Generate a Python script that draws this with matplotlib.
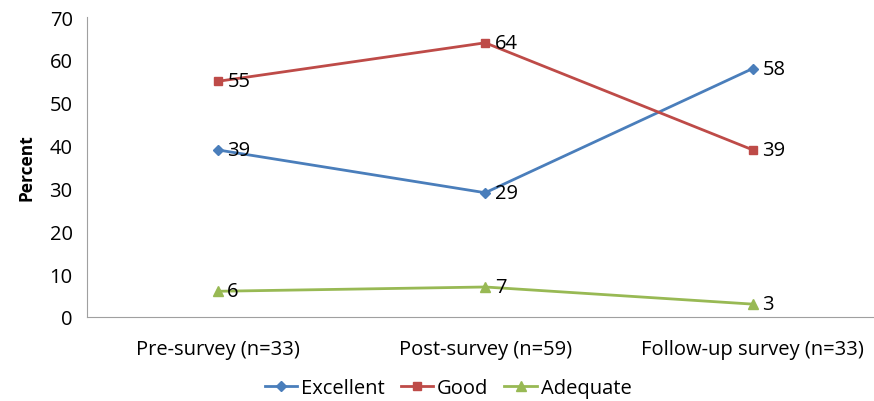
import matplotlib.pyplot as plt

# data
categories = ["Pre-survey (n=33)", "Post-survey (n=59)", "Follow-up survey (n=33)"]
excellent = [39, 29, 58]
good = [55, 64, 39]
adequate = [6, 7, 3]

plt.rcParams['font.family'] = ['Open Sans', 'DejaVu Sans']

fig = plt.figure(figsize=(8.74, 4.02), dpi=100)
ax = fig.add_axes([0.099, 0.209, 0.901, 0.746])

x = list(range(len(categories)))
series = [
    ("Excellent", excellent, "#4A7EBB", "D", 5),
    ("Good", good, "#BE4B48", "s", 6),
    ("Adequate", adequate, "#98B954", "^", 7),
]
for name, vals, col, mk, ms in series:
    ax.plot(x, vals, color=col, lw=2, marker=mk, markersize=ms, label=name)
    for xi, v in zip(x, vals):
        ax.annotate(str(v), (xi, v), xytext=(7, 0), textcoords="offset points",
                    ha="left", va="center", fontsize=14.5)

ax.set_xlim(-0.49, 2.453)
ax.set_ylim(0, 70)
ax.set_yticks(range(0, 71, 10))
ax.set_xticks(x)
ax.set_xticklabels(categories, fontsize=14.5)
ax.tick_params(axis="y", labelsize=14.5, length=0, pad=10)
ax.tick_params(axis="x", length=0, pad=16)
ax.set_ylabel("Percent", fontsize=12.5, fontweight="bold", labelpad=10)

for s in ["top", "right"]:
    ax.spines[s].set_visible(False)
for s in ["left", "bottom"]:
    ax.spines[s].set_color("#A0A0A0")

ax.legend(loc="center", bbox_to_anchor=(0.459, -0.237), ncol=3, frameon=False,
          fontsize=14.5, handlelength=1.6, handletextpad=0.2, columnspacing=0.8)

plt.savefig("out.png", dpi=100)
